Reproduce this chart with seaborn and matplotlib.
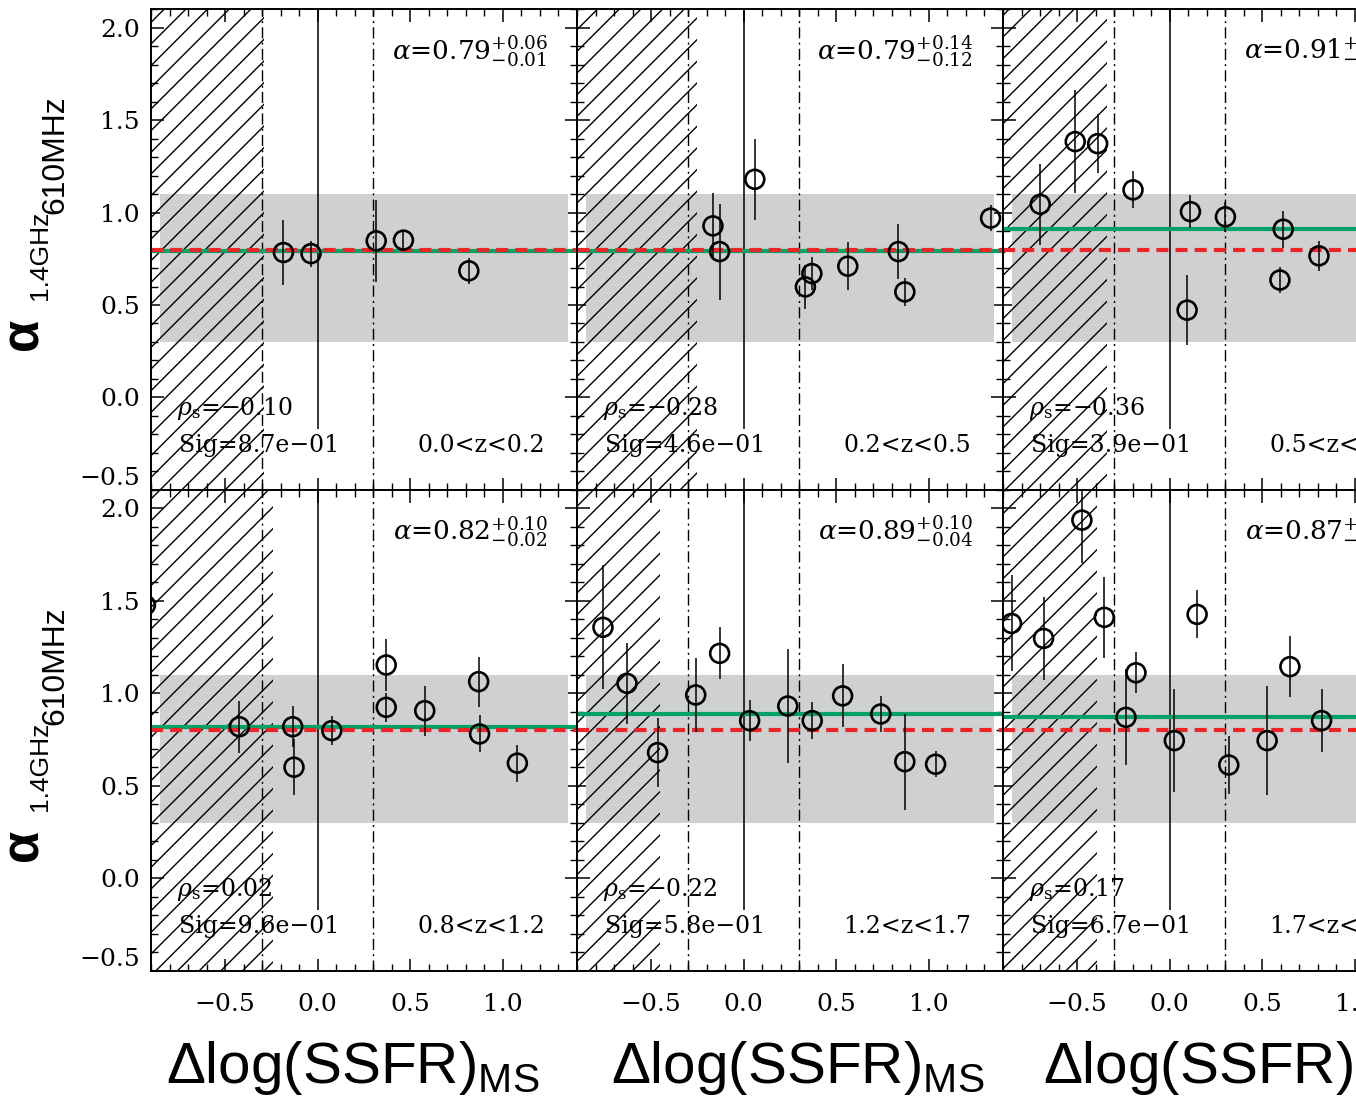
import numpy as np
import pandas as pd
import matplotlib
matplotlib.use("Agg")
import matplotlib.pyplot as plt
from matplotlib.ticker import MultipleLocator
import seaborn as sns

# ---------------- data ----------------
z_bins = ["0.0<z<0.2", "0.2<z<0.5", "0.5<z<0.8", "0.8<z<1.2", "1.2<z<1.7", "1.7<z<2.5"]
alpha_fit = [0.79, 0.79, 0.91, 0.82, 0.89, 0.87]
alpha_up = ["0.06", "0.14", "0.08", "0.10", "0.10", "0.09"]
alpha_lo = ["0.01", "0.12", "0.06", "0.02", "0.04", "0.05"]
alpha_txt = ["0.79", "0.79", "0.91", "0.82", "0.89", "0.87"]
rho_s = ["\u22120.10", "\u22120.28", "\u22120.36", "0.02", "\u22120.22", "0.17"]
sig = ["8.7e\u221201", "4.6e\u221201", "3.9e\u221201", "9.6e\u221201", "5.8e\u221201", "6.7e\u221201"]
alpha_ref = 0.80
band_lo, band_hi = 0.3, 1.1
band_x0, band_x1 = -0.85, 1.35
hatch_edge = [-0.29, -0.25, -0.34, -0.24, -0.45, -0.39]
cut_lo, cut_hi = -0.3, 0.3
zero_line_ymin = -0.17

x_p1 = [-0.185, -0.036, 0.316, 0.463, 0.816]
y_p1 = [0.784, 0.778, 0.847, 0.851, 0.685]
e_p1 = [0.175, 0.07, 0.22, 0.05, 0.07]

x_p2 = [-0.166, -0.13, 0.06, 0.333, 0.368, 0.562, 0.835, 0.87, 1.333]
y_p2 = [0.928, 0.789, 1.18, 0.598, 0.67, 0.71, 0.789, 0.571, 0.97]
e_p2 = [0.18, 0.26, 0.22, 0.12, 0.09, 0.13, 0.15, 0.077, 0.07]

x_p3 = [-0.699, -0.51, -0.389, -0.198, 0.094, 0.112, 0.301, 0.595, 0.613, 0.806]
y_p3 = [1.045, 1.384, 1.373, 1.123, 0.472, 1.005, 0.977, 0.635, 0.91, 0.766]
e_p3 = [0.22, 0.28, 0.16, 0.10, 0.19, 0.09, 0.08, 0.07, 0.10, 0.08]

x_p4 = [-0.93, -0.423, -0.135, -0.128, 0.076, 0.37, 0.37, 0.578, 0.869, 0.874, 1.078]
y_p4 = [1.477, 0.819, 0.819, 0.60, 0.798, 1.153, 0.924, 0.906, 1.063, 0.78, 0.622]
e_p4 = [0.05, 0.14, 0.11, 0.15, 0.08, 0.14, 0.08, 0.135, 0.135, 0.10, 0.10]

x_p5 = [-0.76, -0.63, -0.465, -0.259, -0.13, 0.032, 0.238, 0.37, 0.534, 0.74, 0.87, 1.036]
y_p5 = [1.357, 1.054, 0.679, 0.991, 1.216, 0.852, 0.931, 0.852, 0.986, 0.888, 0.63, 0.616]
e_p5 = [0.335, 0.22, 0.185, 0.2, 0.14, 0.11, 0.31, 0.10, 0.17, 0.10, 0.26, 0.07]

x_p6 = [-0.854, -0.681, -0.474, -0.353, -0.236, -0.182, 0.025, 0.148, 0.319, 0.526, 0.649, 0.82]
y_p6 = [1.378, 1.297, 1.937, 1.411, 0.870, 1.111, 0.744, 1.427, 0.612, 0.744, 1.144, 0.852]
e_p6 = [0.26, 0.225, 0.23, 0.22, 0.26, 0.11, 0.28, 0.13, 0.155, 0.295, 0.165, 0.17]

xs = [x_p1, x_p2, x_p3, x_p4, x_p5, x_p6]
ys = [y_p1, y_p2, y_p3, y_p4, y_p5, y_p6]
es = [e_p1, e_p2, e_p3, e_p4, e_p5, e_p6]

frames = []
for i in range(6):
    frames.append(pd.DataFrame({"panel": i, "dssfr": xs[i], "alpha": ys[i], "err": es[i]}))
df = pd.concat(frames, ignore_index=True)

# ---------------- style ----------------
# render at 130 dpi (so the hatch tile is wider); all point sizes are scaled
DPI = 130
K = 100.0 / DPI


def P(v):
    return v * K


sns.set_theme(style="ticks")
plt.rcParams.update({
    "font.family": ["DejaVu Serif"],
    "mathtext.fontset": "custom",
    "mathtext.rm": "Liberation Sans",
    "mathtext.it": "Liberation Sans:italic",
    "mathtext.bf": "Liberation Sans:bold",
    "text.color": "black",
    "axes.labelcolor": "black",
    "axes.edgecolor": "black",
    "xtick.color": "black",
    "ytick.color": "black",
    "hatch.linewidth": P(1.0),
    "axes.linewidth": P(1.4),
    "xtick.direction": "in",
    "ytick.direction": "in",
    "xtick.top": True,
    "ytick.right": True,
    "xtick.major.size": P(9),
    "ytick.major.size": P(9),
    "xtick.minor.size": P(5),
    "ytick.minor.size": P(5),
    "xtick.major.width": P(1.1),
    "ytick.major.width": P(1.1),
    "xtick.minor.width": P(1.0),
    "ytick.minor.width": P(1.0),
    "xtick.minor.visible": True,
    "ytick.minor.visible": True,
})

W, H = 1356, 1099
fig = plt.figure(figsize=(W / DPI, H / DPI), dpi=DPI)
fig.patch.set_facecolor("white")

col_left = [151, 577, 1003]
row_top = [9.3, 490.0]
ax_w, ax_h = 426, 480.5

GREEN = "#00a266"
RED = "#ee2426"
GRAY = "#cfd0d2"
xlabel_xc = [0.474, 0.519, 0.532]
ylabel_shift = [0, 511]


def px(x, y):
    return x / W, 1 - y / H


for i in range(6):
    r, c = divmod(i, 3)
    ax = fig.add_axes([col_left[c] / W, 1 - (row_top[r] + ax_h) / H, ax_w / W, ax_h / H])
    ax.set_xlim(-0.9, 1.4)
    ax.set_ylim(-0.5, 2.1)
    ax.set_facecolor("white")

    ax.axhspan(band_lo, band_hi, xmin=(band_x0 + 0.9) / 2.3, xmax=(band_x1 + 0.9) / 2.3,
               facecolor=GRAY, edgecolor="none", zorder=1)
    ax.axvspan(-0.9, hatch_edge[i], facecolor="none", edgecolor="black", hatch="//",
               linewidth=0, zorder=2)
    ax.axvline(cut_lo, color="black", lw=P(1.0), ls=(0, (8, 3, 1.5, 3)), zorder=3)
    ax.axvline(cut_hi, color="black", lw=P(1.0), ls=(0, (8, 3, 1.5, 3)), zorder=3)
    ax.vlines(0.0, zero_line_ymin, 2.1, color="black", lw=P(1.1), zorder=3)

    ax.axhline(alpha_fit[i], color=GREEN, lw=P(3.0), zorder=4)
    ax.axhline(alpha_ref, color=RED, lw=P(3.0), ls=(0, (2.9, 1.7)), zorder=5)

    sub = df[df.panel == i]
    ax.errorbar(sub.dssfr, sub.alpha, yerr=sub.err, fmt="none", ecolor="black",
                elinewidth=P(1.1), capsize=0, zorder=6)
    sns.scatterplot(data=sub, x="dssfr", y="alpha", ax=ax, marker="o", s=185 * K * K,
                    facecolors="none", edgecolors="black", linewidths=P(1.9),
                    legend=False, zorder=7)

    ax.xaxis.set_minor_locator(MultipleLocator(0.1))
    ax.yaxis.set_minor_locator(MultipleLocator(0.1))
    ax.set_xticks([-0.5, 0.0, 0.5, 1.0])
    ax.set_yticks([-0.5, 0.0, 0.5, 1.0, 1.5, 2.0])
    ax.set_xlabel("")
    ax.set_ylabel("")
    ax.tick_params(axis="x", which="both", pad=P(16), labelsize=P(18))
    ax.tick_params(axis="y", which="both", pad=P(8), labelsize=P(18))
    if r == 0:
        ax.tick_params(axis="x", labelbottom=False)
    if c != 0:
        ax.tick_params(axis="y", labelleft=False)
    else:
        ax.yaxis.get_major_ticks()[0].label1.set_verticalalignment("bottom")
    for sp in ax.spines.values():
        sp.set_visible(True)
        sp.set_linewidth(P(1.4))
        sp.set_color("black")
        sp.set_zorder(10)

    # annotations
    ax.text(0.932, 0.913, r"$\alpha$=" + alpha_txt[i] + r"$^{+" + alpha_up[i] + r"}_{-" + alpha_lo[i] + r"}$",
            transform=ax.transAxes, ha="right", va="center", fontsize=P(19),
            family="DejaVu Serif", math_fontfamily="dejavuserif", zorder=8)
    ax.text(0.060, 0.169, r"$\rho_{\rm s}$=" + rho_s[i], transform=ax.transAxes,
            ha="left", va="center", fontsize=P(17), family="DejaVu Serif",
            math_fontfamily="dejavuserif", zorder=8)
    ax.text(0.066, 0.092, "Sig=" + sig[i], transform=ax.transAxes, ha="left",
            va="center", fontsize=P(17), family="DejaVu Serif", zorder=8)
    ax.text(0.925, 0.092, z_bins[i], transform=ax.transAxes, ha="right",
            va="center", fontsize=P(17), family="DejaVu Serif", zorder=8)

    if c == 0:
        dy = ylabel_shift[r]
        fig.text(*px(38, 350 + dy), "\u03b1", rotation=90, rotation_mode="anchor",
                 ha="left", va="baseline", fontsize=P(38), fontweight="bold",
                 family="Liberation Sans")
        fig.text(*px(47, 300 + dy), "1.4GHz", rotation=90, rotation_mode="anchor",
                 ha="left", va="baseline", fontsize=P(19), family="Liberation Sans")
        fig.text(*px(63, 214 + dy), "610MHz", rotation=90, rotation_mode="anchor",
                 ha="left", va="baseline", fontsize=P(23), family="Liberation Sans")
    if r == 1:
        ax.text(xlabel_xc[c], -0.202, r"$\Delta\mathrm{log(SSFR)}_{\mathrm{MS}}$",
                transform=ax.transAxes, ha="center", va="center", fontsize=P(42),
                clip_on=False)

fig.savefig("out.png", dpi=DPI, facecolor="white")
